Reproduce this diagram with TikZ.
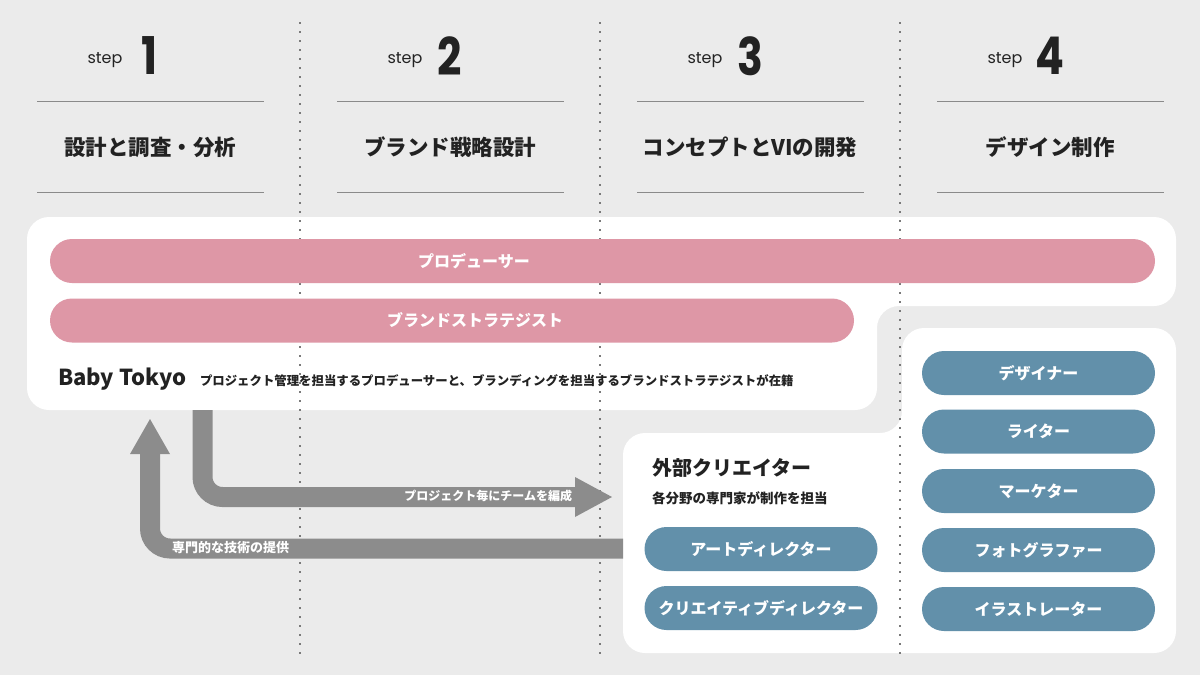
\documentclass[tikz,border=0pt]{standalone}
\usepackage{fontspec}
\newfontfamily\jp{Noto Sans CJK JP}
\newfontfamily\pop{Poppins}
\definecolor{bg}{HTML}{EBEBEB}
\definecolor{pinkc}{HTML}{DE97A6}
\definecolor{bluec}{HTML}{6290AA}
\definecolor{arrowgray}{HTML}{8C8C8C}
\definecolor{rulegray}{HTML}{8A8A8A}
\definecolor{dotgray}{HTML}{7A7A7A}
\definecolor{ink}{HTML}{222222}
\begin{document}
\begin{tikzpicture}[x=1pt,y=-1pt,
  every node/.style={inner sep=0pt, outer sep=0pt},
  steplabel/.style={font=\pop\fontsize{16}{16}\selectfont, text=ink},
  stepnum/.style={font=\pop\bfseries\fontsize{52}{52}\selectfont, text=ink},
  heading/.style={font=\jp\bfseries\fontsize{21.5}{21.5}\selectfont, text=ink},
  rule/.style={draw=rulegray, line width=1pt},
  dotline/.style={draw=dotgray, line width=1.8pt, dash pattern=on 1.8pt off 7.2pt},
  region/.style={fill=white, rounded corners=22},
  pinkbar/.style={fill=pinkc, rounded corners=22, minimum height=44, draw=none},
  pill/.style={fill=bluec, rounded corners=22, minimum height=44, minimum width=233, text=white, font=\jp\bfseries\fontsize{16}{16}\selectfont},
  bartext/.style={text=white, font=\jp\bfseries\fontsize{16}{16}\selectfont},
  flow/.style={draw=arrowgray, line width=20, rounded corners=20},
  head/.style={fill=arrowgray},
  flowtext/.style={text=white, font=\jp\bfseries\fontsize{12}{12}\selectfont}
]
\useasboundingbox (0,0) rectangle (1200,675);
\fill[bg] (0,0) rectangle (1200,675);

% header
\foreach \i/\t in {0/設計と調査・分析,1/ブランド戦略設計,2/コンセプトとVIの開発,3/デザイン制作}{
  \pgfmathsetmacro{\cx}{150+300*\i}
  \pgfmathtruncatemacro{\n}{\i+1}
  \node[steplabel] (step\n) at (\cx-45,60) {step};
  \node[stepnum] (num\n) at (\cx,56) {\scalebox{0.82}[1]{\n}};
  \draw[rule] (\cx-113,101) -- (\cx+114,101);
  \draw[rule] (\cx-113,192) -- (\cx+114,192);
  \node[heading] (title\n) at (\cx,147) {\t};
}

% white regions
\fill[region] (27,217) -- (1176,217) -- (1176,306) -- (877,306) -- (877,410) -- (27,410) -- cycle;
\fill[region] (623,433) -- (902,433) -- (902,328) -- (1176,328) -- (1176,653) -- (623,653) -- cycle;

% dotted column separators
\foreach \x in {300,600,900}{
  \draw[dotline] (\x,22) -- (\x,656);
}

% pink bars
\node[pinkbar, minimum width=1105] (producer) at (602.5,261) {};
\node[pinkbar, minimum width=804] (strategist) at (452,320.5) {};
\node[bartext] (producerlbl) at (474,261) {プロデューサー};
\node[bartext] (strategistlbl) at (475,320.5) {ブランドストラテジスト};

\node[anchor=base west, text=ink, font=\jp\bfseries\fontsize{22}{22}\selectfont] (baby) at (58,385) {Baby Tokyo};
\node[anchor=base west, text=ink, font=\jp\bfseries\fontsize{12.4}{12.4}\selectfont] (babydesc) at (200,385) {プロジェクト管理を担当するプロデューサーと、ブランディングを担当するブランドストラテジストが在籍};

% external creators
\node[anchor=west, text=ink, font=\jp\bfseries\fontsize{20}{20}\selectfont] (ext) at (652,468) {外部クリエイター};
\node[anchor=west, text=ink, font=\jp\bfseries\fontsize{13.5}{13.5}\selectfont] (extdesc) at (652,498) {各分野の専門家が制作を担当};

% flow arrows
\coordinate (a1s) at (202.5,410);
\coordinate (a1c) at (202.5,497);
\coordinate (a1e) at (577,497);
\draw[flow] (a1s) -- (a1c) -- (a1e);
\fill[head] (575,477) -- (612,497) -- (575,517) -- cycle;
\node[flowtext, anchor=east] (team) at (572,496) {プロジェクト毎にチームを編成};

\coordinate (a2s) at (623,548.5);
\coordinate (a2c) at (150,548.5);
\coordinate (a2e) at (150,452);
\draw[flow] (a2s) -- (a2c) -- (a2e);
\fill[head] (130,454) -- (150,419) -- (170,454) -- cycle;
\node[flowtext, anchor=west, font=\jp\bfseries\fontsize{13}{13}\selectfont] (skill) at (172,548) {専門的な技術の提供};

% blue pills
\node[pill] (designer) at (1038.5,373) {デザイナー};
\node[pill] (writer) at (1038.5,431.5) {ライター};
\node[pill] (marketer) at (1038.5,491) {マーケター};
\node[pill] (photo) at (1038.5,550) {フォトグラファー};
\node[pill] (illust) at (1038.5,609) {イラストレーター};
\node[pill] (ad) at (761,549) {アートディレクター};
\node[pill] (cd) at (761,608) {クリエイティブディレクター};
\end{tikzpicture}
\end{document}
